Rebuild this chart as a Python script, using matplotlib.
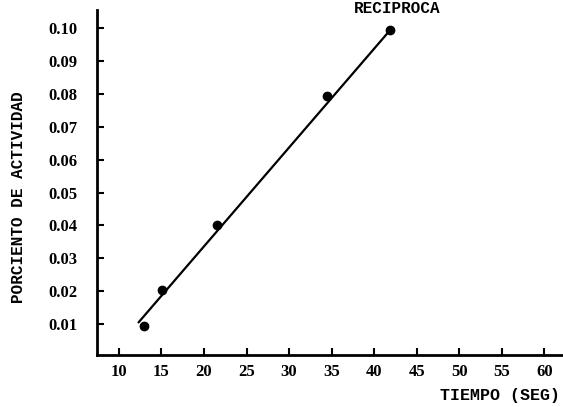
import matplotlib
matplotlib.use("Agg")
import matplotlib.pyplot as plt

# Measured points: time (s) vs. reciprocal activity
tiempo = [13.0, 15.1, 21.5, 34.4, 41.9]
actividad = [0.0095, 0.0205, 0.0402, 0.0795, 0.0995]

# Fitted straight line (end points)
linea_x = [12.3, 41.9]
linea_y = [0.0105, 0.0995]

xticks = [10, 15, 20, 25, 30, 35, 40, 45, 50, 55, 60]
yticks = [0.01, 0.02, 0.03, 0.04, 0.05, 0.06, 0.07, 0.08, 0.09, 0.10]
ytick_labels = ["0.01", "0.02", "0.03", "0.04", "0.05", "0.06", "0.07",
                "0.08", "0.09", "0.10"]

mono = ["Liberation Mono", "DejaVu Sans Mono"]
serif = ["Liberation Serif", "DejaVu Serif"]

fig = plt.figure(figsize=(5.63, 4.07), dpi=100)
ax = fig.add_axes([0.172, 0.127, 0.828, 0.848])

ax.plot(linea_x, linea_y, color="black", lw=1.6, solid_capstyle="round")
ax.plot(tiempo, actividad, "o", color="black", ms=6)

ax.set_xlim(7.4, 62.2)
ax.set_ylim(0.0005, 0.1055)

ax.set_xticks(xticks)
ax.set_xticklabels([str(t) for t in xticks], family=serif, fontsize=12,
                   fontweight="bold")
ax.set_yticks(yticks)
ax.set_yticklabels(ytick_labels, family=serif, fontsize=12, fontweight="bold")
ax.tick_params(axis="both", direction="in", length=5, width=1.5, colors="black")
ax.tick_params(axis="y", pad=14)
ax.tick_params(axis="x", pad=6)

for side in ("top", "right"):
    ax.spines[side].set_visible(False)
for side in ("left", "bottom"):
    ax.spines[side].set_linewidth(2.0)

fig.text(0.032, 0.515, "PORCIENTO DE ACTIVIDAD", rotation=90, ha="center",
         va="center", family=mono, fontsize=11.5, fontweight="bold")
fig.text(0.995, 0.028, "TIEMPO (SEG)", ha="right", va="center",
         family=mono, fontsize=12, fontweight="bold")
fig.text(0.705, 0.997, "RECIPROCA", ha="center", va="top",
         family=mono, fontsize=11.5, fontweight="bold")

fig.savefig("out.png", dpi=100, facecolor="white")
